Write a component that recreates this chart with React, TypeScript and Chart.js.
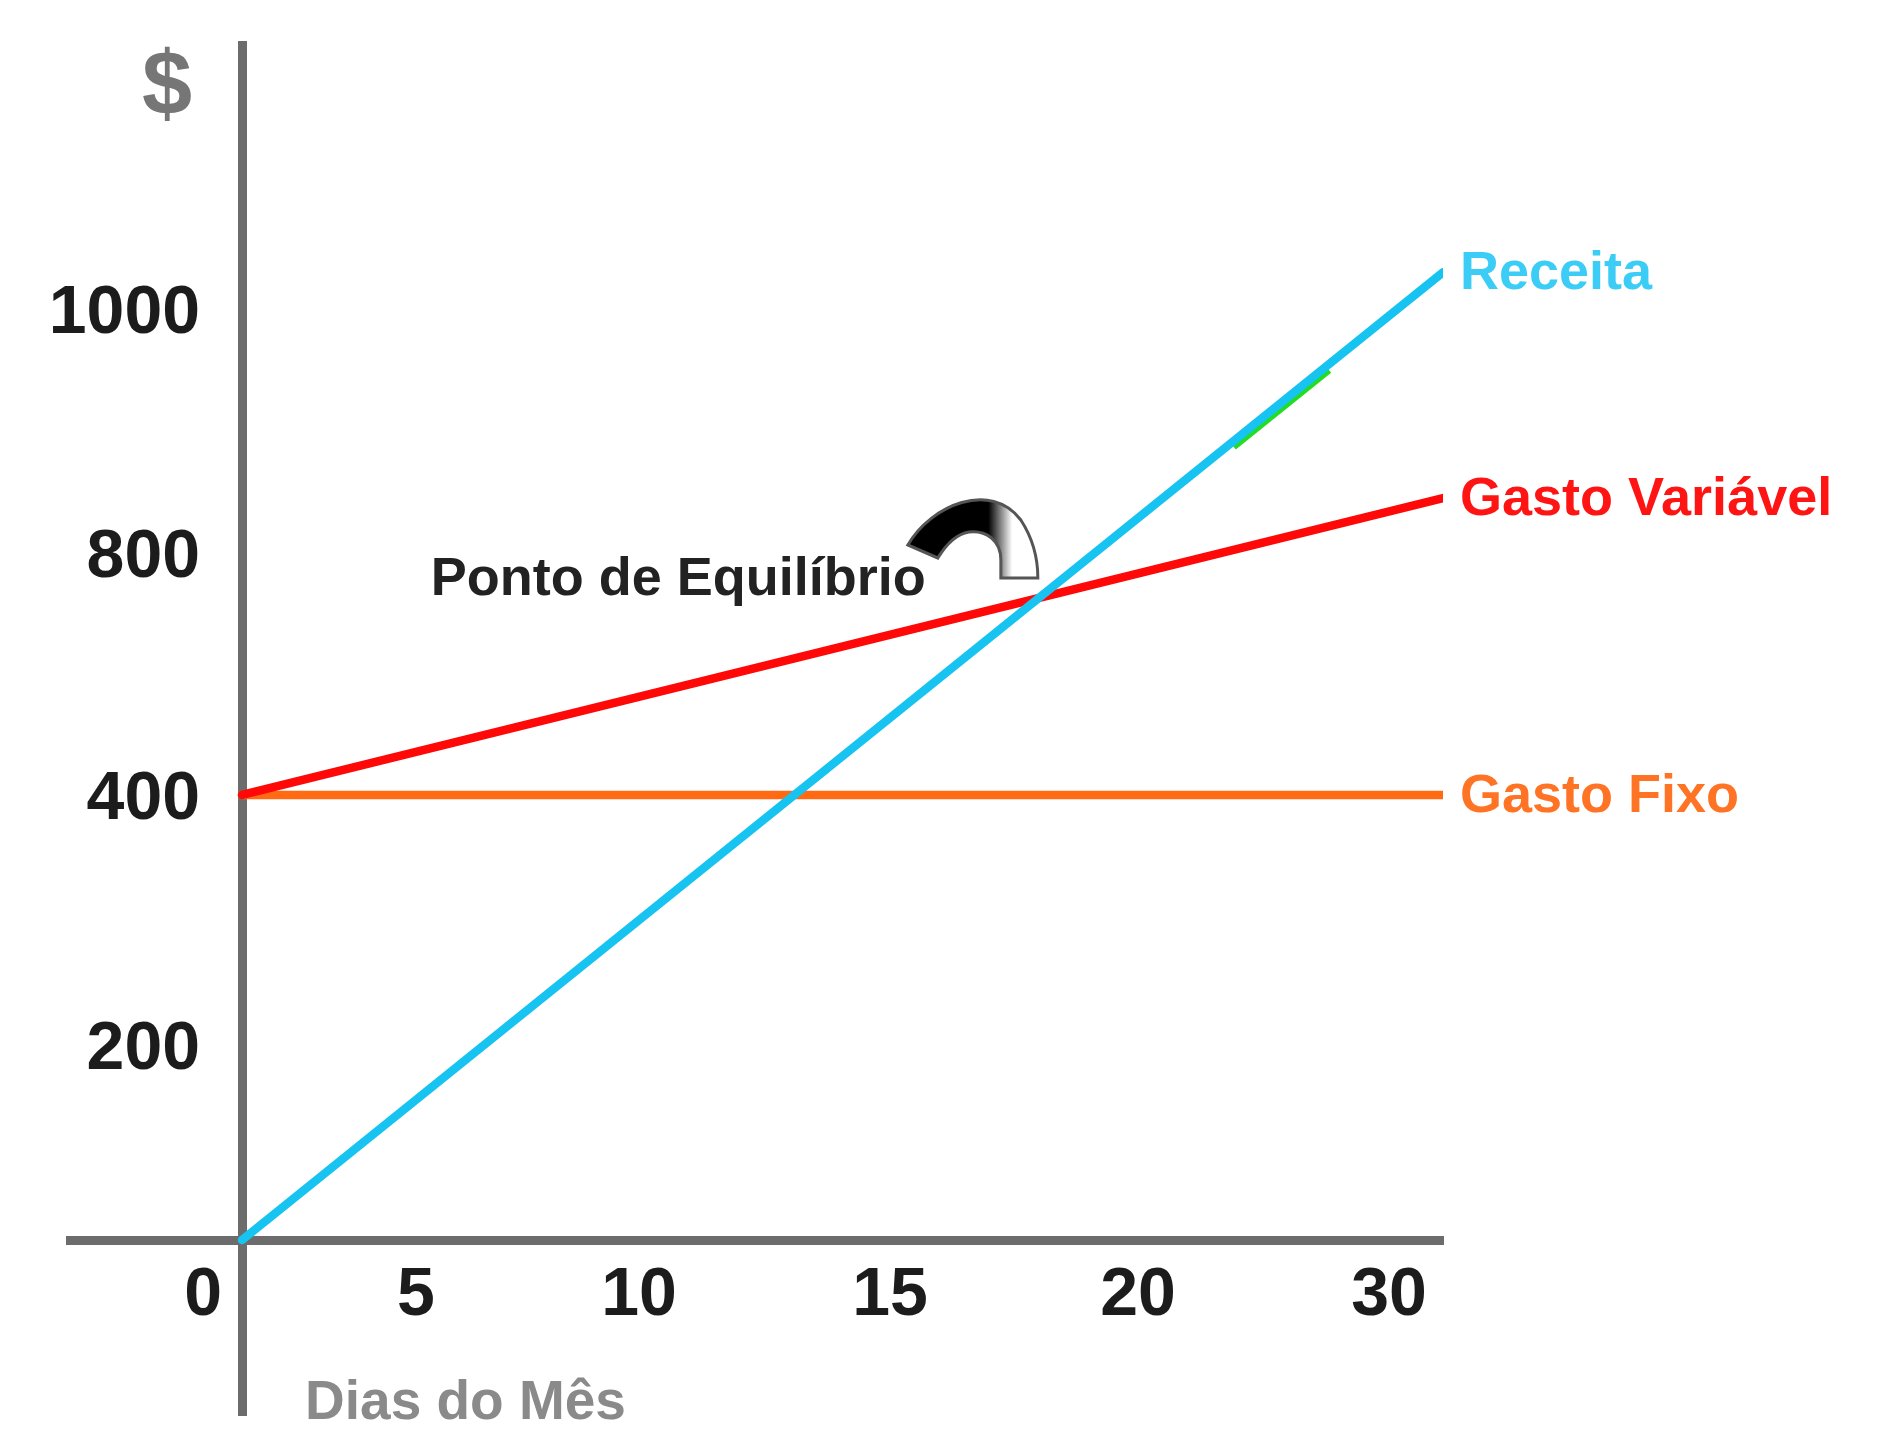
import React, { useEffect, useRef } from 'react';
import { Chart, LinearScale, registerables } from 'chart.js';

// ---- data ----
const DAYS = [0, 31];
const RECEITA = [0, 1030];
const GASTO_VARIAVEL = [400, 845];
const GASTO_FIXO = [400, 400];
const REALCE_DAYS = [23.7, 27.5];
const REALCE = [890, 953];
const X_TICKS = [5, 10, 15, 20, 30];
const Y_TICKS = [200, 400, 800, 1000];
const SERIES_NAMES = ['Receita', 'Gasto Variável', 'Gasto Fixo'];
const ORIGIN_LABEL = '0';
const Y_TITLE = '$';
const X_TITLE = 'Dias do Mês';
const ANNOTATION = 'Ponto de Equilíbrio';

// ---- layout / style ----
const FONT = '"Liberation Sans", Arial, Helvetica, sans-serif';
const AXIS_COLOR = '#6c6c6c';
const TICK_COLOR = '#1c1c1c';
const COLORS = ['#17c3f0', '#ff0808', '#ff6a12'];
const LABEL_COLORS = ['#3ccdf6', '#ff1414', '#ff7324'];
const REALCE_COLOR = '#22dd22';
const TEXT_DROP = 5;
// the drawing's axes are not to scale: value -> fraction of axis length
const AXIS_ANCHORS: Record<string, number[][]> = {
  x: [[-4.94, 0], [0, 0.1253], [5, 0.252], [10, 0.4144], [15, 0.5972], [20, 0.7779], [30, 0.9607], [31, 1]],
  y: [[-180, 0], [0, 0.1277], [200, 0.2701], [400, 0.4526], [800, 0.6292], [1000, 0.8073], [1216, 1]],
};

class SketchScale extends (LinearScale as any) {
  static id = 'sketch';
  static defaults = (LinearScale as any).defaults;

  getPixelForValue(value: number) {
    if (value === null || value === undefined || isNaN(value)) return NaN;
    const a = AXIS_ANCHORS[this.id];
    let i = 0;
    while (i < a.length - 2 && value > a[i + 1][0]) i++;
    const [v0, d0] = a[i];
    const [v1, d1] = a[i + 1];
    const dec = d0 + ((value - v0) / (v1 - v0)) * (d1 - d0);
    return this.getPixelForDecimal(dec);
  }

  getValueForPixel(pixel: number) {
    const dec = this.getDecimalForPixel(pixel);
    const a = AXIS_ANCHORS[this.id];
    let i = 0;
    while (i < a.length - 2 && dec > a[i + 1][1]) i++;
    const [v0, d0] = a[i];
    const [v1, d1] = a[i + 1];
    return v0 + ((dec - d0) / (d1 - d0)) * (v1 - v0);
  }

  getPadding() {
    return { left: 0, right: 0, top: 0, bottom: 0 };
  }

  _computeLabelItems(chartArea: any) {
    const items = super._computeLabelItems(chartArea);
    if (this.id === 'y') {
      const x = this.chart.scales.x.getPixelForValue(0) - 42;
      for (const it of items) {
        it.options.translation = [x, it.options.translation[1] + TEXT_DROP];
        it.options.textAlign = 'right';
      }
    }
    return items;
  }
}

Chart.register(...registerables, SketchScale as any);

function lineIntersection(a1: any, a2: any, b1: any, b2: any) {
  const d = (a1.x - a2.x) * (b1.y - b2.y) - (a1.y - a2.y) * (b1.x - b2.x);
  const t = ((a1.x - b1.x) * (b1.y - b2.y) - (a1.y - b1.y) * (b1.x - b2.x)) / d;
  return { x: a1.x + t * (a2.x - a1.x), y: a1.y + t * (a2.y - a1.y) };
}

const decorations = {
  id: 'decorations',
  beforeDatasetDraw(chart: any, args: any) {
    if (args.index === 3) {
      chart.ctx.save();
      chart.ctx.translate(3, 4);
    }
  },
  afterDatasetDraw(chart: any, args: any) {
    if (args.index === 3) chart.ctx.restore();
  },
  afterDatasetsDraw(chart: any) {
    const ctx = chart.ctx;
    const xs = chart.scales.x;
    const ys = chart.scales.y;
    const ox = xs.getPixelForValue(0);
    const oy = ys.getPixelForValue(0);
    ctx.save();

    // "$" title
    ctx.fillStyle = '#767676';
    ctx.font = `bold 90px ${FONT}`;
    ctx.textAlign = 'right';
    ctx.textBaseline = 'middle';
    ctx.fillText(Y_TITLE, ox - 50, chart.chartArea.top + 39 + TEXT_DROP);

    // origin "0"
    ctx.fillStyle = TICK_COLOR;
    ctx.font = `bold 68px ${FONT}`;
    ctx.textAlign = 'center';
    ctx.fillText(ORIGIN_LABEL, ox - 39, oy + 51 + TEXT_DROP);

    // x title
    ctx.fillStyle = '#8a8a8a';
    ctx.font = `bold 55px ${FONT}`;
    ctx.textAlign = 'left';
    ctx.fillText(X_TITLE, ox + 63, oy + 159 + TEXT_DROP);

    // series names at the line ends
    ctx.font = `bold 54px ${FONT}`;
    for (let i = 0; i < 3; i++) {
      const pts = chart.getDatasetMeta(i).data;
      const p = pts[pts.length - 1];
      ctx.fillStyle = LABEL_COLORS[i];
      ctx.fillText(SERIES_NAMES[i], p.x + 17, p.y - 3 + TEXT_DROP);
    }

    // break-even annotation
    const r = chart.getDatasetMeta(0).data;
    const v = chart.getDatasetMeta(1).data;
    const b = lineIntersection(r[0], r[r.length - 1], v[0], v[v.length - 1]);
    const bx = b.x;
    const by = b.y;
    ctx.fillStyle = '#222222';
    ctx.font = `bold 54px ${FONT}`;
    ctx.textAlign = 'left';
    ctx.textBaseline = 'alphabetic';
    ctx.fillText(ANNOTATION, bx - 608, by - 8 + TEXT_DROP);

    const P = (dx: number, dy: number): [number, number] => [bx + dx, by + dy];
    ctx.beginPath();
    ctx.moveTo(...P(-131, -53));
    ctx.bezierCurveTo(...P(-108, -93), ...P(-48, -118), ...P(-18, -78));
    ctx.bezierCurveTo(...P(-5, -58), ...P(-1, -38), ...P(-1, -20));
    ctx.lineTo(...P(-38, -20));
    ctx.lineTo(...P(-38, -38));
    ctx.bezierCurveTo(...P(-38, -58), ...P(-53, -68), ...P(-70, -66));
    ctx.bezierCurveTo(...P(-83, -64), ...P(-93, -53), ...P(-101, -40));
    ctx.closePath();
    const g = ctx.createLinearGradient(bx - 133, 0, bx, 0);
    g.addColorStop(0, '#000000');
    g.addColorStop(0.62, '#000000');
    g.addColorStop(0.8, '#ffffff');
    g.addColorStop(1, '#ffffff');
    ctx.fillStyle = g;
    ctx.fill();
    ctx.strokeStyle = '#555555';
    ctx.lineWidth = 3;
    ctx.stroke();

    ctx.restore();
  },
};

const tickFont = { family: FONT, size: 68, weight: 'bold' as const };

export default function App() {
  const ref = useRef<HTMLCanvasElement | null>(null);

  useEffect(() => {
    if (!ref.current) return;
    const mk = (xs: number[], ys: number[]) => xs.map((x, i) => ({ x, y: ys[i] }));
    const chart = new Chart(ref.current, {
      type: 'line',
      data: {
        datasets: [
          { label: SERIES_NAMES[0], data: mk(DAYS, RECEITA), borderColor: COLORS[0], borderWidth: 8.5, pointRadius: 0, borderCapStyle: 'round' },
          { label: SERIES_NAMES[1], data: mk(DAYS, GASTO_VARIAVEL), borderColor: COLORS[1], borderWidth: 8.5, pointRadius: 0, borderCapStyle: 'round' },
          { label: SERIES_NAMES[2], data: mk(DAYS, GASTO_FIXO), borderColor: COLORS[2], borderWidth: 8.5, pointRadius: 0, borderCapStyle: 'round' },
          { label: 'realce', data: mk(REALCE_DAYS, REALCE), borderColor: REALCE_COLOR, borderWidth: 6, pointRadius: 0 },
        ],
      } as any,
      options: {
        animation: false,
        responsive: true,
        maintainAspectRatio: false,
        events: [],
        layout: { padding: { left: 70, top: 45, right: 449, bottom: 28 } },
        plugins: { legend: { display: false }, tooltip: { enabled: false } },
        scales: {
          x: {
            type: 'sketch',
            position: { y: 0 },
            min: -4.94,
            max: 31,
            grid: { display: false, drawTicks: false },
            border: { display: true, color: AXIS_COLOR, width: 9 },
            ticks: {
              autoSkip: false,
              maxRotation: 0,
              minRotation: 0,
              padding: 10 + TEXT_DROP,
              color: TICK_COLOR,
              font: tickFont,
              callback: (v: any) => String(v),
            },
            afterBuildTicks: (s: any) => {
              s.ticks = X_TICKS.map((value) => ({ value }));
            },
          },
          y: {
            type: 'sketch',
            position: { x: 0 },
            min: -180,
            max: 1216,
            grid: { display: false, drawTicks: false },
            border: { display: true, color: AXIS_COLOR, width: 9 },
            ticks: {
              autoSkip: false,
              padding: 40,
              color: TICK_COLOR,
              font: tickFont,
              callback: (v: any) => String(v),
            },
            afterBuildTicks: (s: any) => {
              s.ticks = Y_TICKS.map((value) => ({ value }));
            },
          },
        } as any,
      },
      plugins: [decorations],
    });
    return () => chart.destroy();
  }, []);

  return (
    <div style={{ position: 'fixed', left: 0, top: 0, width: 1892, height: 1443, background: '#ffffff' }}>
      <canvas ref={ref} style={{ display: 'block' }} />
    </div>
  );
}
